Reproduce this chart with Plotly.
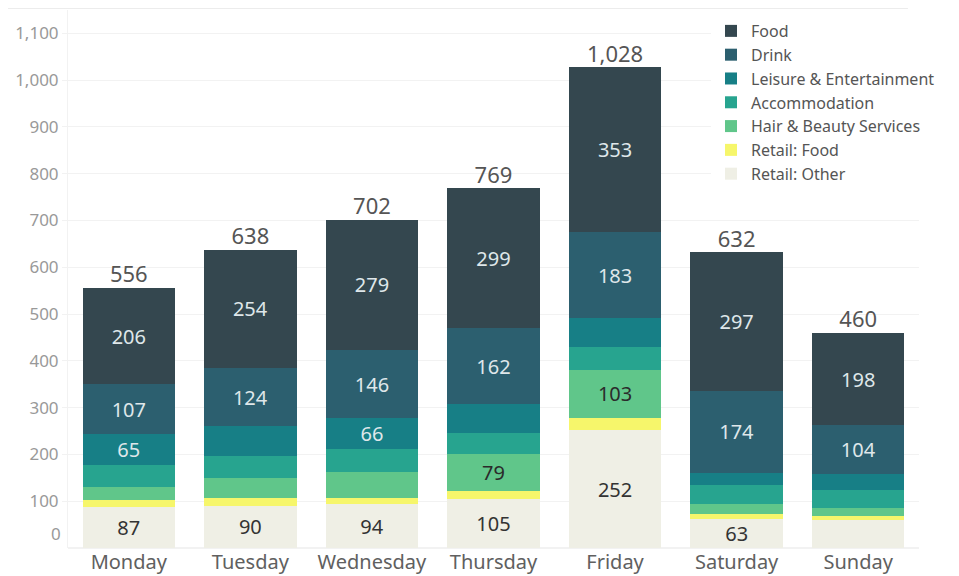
import plotly.graph_objects as go

days = ["Monday", "Tuesday", "Wednesday", "Thursday", "Friday", "Saturday", "Sunday"]

retail_other = [87, 90, 94, 105, 252, 63, 60]
retail_food = [15, 16, 13, 17, 26, 9, 8]
hair_beauty = [29, 44, 56, 79, 103, 22, 18]
accommodation = [47, 46, 48, 45, 48, 41, 38]
leisure = [65, 64, 66, 62, 63, 26, 34]
drink = [107, 124, 146, 162, 183, 174, 104]
food = [206, 254, 279, 299, 353, 297, 198]

# which segment values are printed in the reference
show_other = [True, True, True, True, True, True, False]
show_hair = [False, False, False, True, True, False, False]
show_leisure = [True, False, True, False, False, False, False]

y_ticks = [100, 200, 300, 400, 500, 600, 700, 800, 900, 1000, 1100]

series = [
    ("Retail: Other", retail_other, "#efefe5", show_other, "#333333"),
    ("Retail: Food", retail_food, "#f6f66b", [False] * 7, "#333333"),
    ("Hair & Beauty Services", hair_beauty, "#60c68a", show_hair, "#2b2b2b"),
    ("Accommodation", accommodation, "#27a48f", [False] * 7, "#ffffff"),
    ("Leisure & Entertainment", leisure, "#177f86", show_leisure, "#dfe7ea"),
    ("Drink", drink, "#2c5f6f", [True] * 7, "#dfe7ea"),
    ("Food", food, "#34474f", [True] * 7, "#dfe7ea"),
]

FONT = "Noto Sans"
fig = go.Figure()
for name, vals, color, show, tcolor in series:
    fig.add_trace(go.Bar(
        x=days, y=vals, name=name,
        marker=dict(color=color, line=dict(width=0)),
        text=[f"{v}" if s else "" for v, s in zip(vals, show)],
        textposition="inside", insidetextanchor="middle", textangle=0,
        constraintext="none",
        textfont=dict(family=FONT, size=20, color=tcolor),
        hoverinfo="x+y+name",
    ))

totals = [sum(t) for t in zip(retail_other, retail_food, hair_beauty, accommodation, leisure, drink, food)]
fig.add_trace(go.Scatter(
    x=days, y=totals, mode="text",
    text=[f"{t:,}" for t in totals], textposition="top center",
    textfont=dict(family=FONT, size=22, color="#555555"),
    showlegend=False, hoverinfo="skip",
))

fig.update_layout(
    width=951, height=568,
    barmode="stack", bargap=0.24,
    plot_bgcolor="white", paper_bgcolor="white",
    margin=dict(l=60, r=40, t=2, b=28, autoexpand=False),
    font=dict(family=FONT, color="#555555"),
    legend=dict(
        traceorder="reversed", x=0.7556, y=0.9926, xanchor="left", yanchor="top",
        bgcolor="white", font=dict(family=FONT, size=16, color="#555555"),
        itemwidth=30, tracegroupgap=0,
    ),
    showlegend=True,
)
fig.update_xaxes(
    automargin=False,
    showgrid=False, showline=False, ticks="", ticklen=0,
    tickfont=dict(family=FONT, size=20, color="#606060"),
)
fig.update_yaxes(
    automargin=False,
    range=[0, 1150], tickvals=y_ticks, tickformat=",",
    showgrid=True, gridcolor="#f2f2f2", gridwidth=1,
    zeroline=True, zerolinecolor="#f2f2f2",
    showline=True, linecolor="#f2f2f2",
    tickfont=dict(family=FONT, size=17, color="#999999"),
    ticks="outside", ticklen=5, tickcolor="#f2f2f2",
)
fig.add_annotation(x=0, xref="paper", xanchor="right", xshift=-5, y=30, yref="y",
                   text="0", showarrow=False, font=dict(family=FONT, size=17, color="#999999"))
fig.add_shape(type="line", xref="paper", yref="paper", x0=-0.0705, x1=0.987, y0=1.0037, y1=1.0037,
              line=dict(color="#ececec", width=2))

fig.write_html("out.html")
